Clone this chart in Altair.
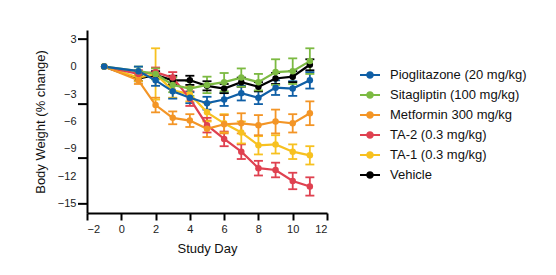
import altair as alt
import pandas as pd

days = [-1, 1, 2, 3, 4, 5, 6, 7, 8, 9, 10, 11]
groups = ["Pioglitazone (20 mg/kg)", "Sitagliptin (100 mg/kg)", "Metformin 300 mg/kg",
          "TA-2 (0.3 mg/kg)", "TA-1 (0.3 mg/kg)", "Vehicle"]
colors = ["#0f5fa6", "#7cba42", "#f39526", "#df4150", "#f7c120", "#000000"]

pio_mean = [0, -0.5, -1.5, -2.7, -3.4, -4.0, -3.6, -2.9, -3.4, -2.3, -2.4, -1.5]
pio_err = [0, 0.5, 0.6, 0.8, 0.6, 0.7, 0.7, 0.8, 0.7, 0.8, 0.8, 0.9]
sita_mean = [0, -0.5, -0.8, -2.0, -2.4, -2.0, -1.7, -1.2, -1.7, -0.6, -0.5, 0.6]
sita_err = [0, 0.5, 0.6, 0.8, 0.8, 0.9, 1.0, 1.0, 0.9, 1.4, 1.4, 1.4]
met_mean = [0, -1.5, -4.2, -5.6, -5.9, -6.8, -6.3, -6.2, -6.4, -6.0, -6.2, -5.1]
met_err = [0, 0.4, 0.8, 0.7, 0.7, 0.9, 1.0, 1.1, 1.1, 1.3, 1.0, 1.3]
ta2_mean = [0, -0.8, -0.6, -1.2, -3.5, -6.4, -7.9, -9.3, -11.1, -11.3, -12.5, -13.1]
ta2_err = [0, 0.4, 0.5, 0.6, 0.8, 0.8, 0.8, 0.8, 0.8, 0.8, 0.9, 1.0]
ta1_mean = [0, -1.2, -0.8, -2.6, -3.0, -5.0, -6.2, -7.2, -8.6, -8.5, -9.3, -9.7]
ta1_err = [0, 0.4, 2.8, 0.8, 0.8, 1.0, 1.0, 1.2, 1.0, 1.0, 0.8, 1.0]
veh_mean = [0, -1.3, -0.9, -1.5, -1.5, -2.1, -2.4, -1.7, -2.2, -1.3, -1.1, 0.2]
veh_err = [0, 0.3, 0.4, 0.5, 0.5, 0.5, 0.5, 0.5, 0.5, 0.6, 0.6, 0.6]

y_label_values = [3, 0, -3, -6, -9, -12, -15]
y_tick_values = [3, -4.1, -10, -15]
x_values = [-2, 0, 2, 4, 6, 8, 10, 12]

series = {
    "Vehicle": (veh_mean, veh_err),
    "TA-1 (0.3 mg/kg)": (ta1_mean, ta1_err),
    "TA-2 (0.3 mg/kg)": (ta2_mean, ta2_err),
    "Metformin 300 mg/kg": (met_mean, met_err),
    "Sitagliptin (100 mg/kg)": (sita_mean, sita_err),
    "Pioglitazone (20 mg/kg)": (pio_mean, pio_err),
}
rows = []
order = 0
for g, (m, e) in series.items():
    for d, mv, ev in zip(days, m, e):
        rows.append({"group": g, "day": d, "mean": mv, "err": ev,
                     "lo": mv - ev, "hi": mv + ev, "ord": order})
        order += 1
df = pd.DataFrame(rows)
ticks_df = pd.DataFrame({"v": y_tick_values})

FONT = "Liberation Sans"
xscale = alt.Scale(domain=[-2, 12], nice=False, zero=False)
yscale = alt.Scale(domain=[-16, 4], nice=False, zero=False)
fscale = alt.Scale(domain=groups, range=colors)
# same mapping, listed in reverse so this scale's legend is not merged with the fill legend
sscale = alt.Scale(domain=groups[::-1], range=colors[::-1])

xaxis = alt.Axis(values=x_values, title="Study Day", grid=False, domainColor="black",
                 domainWidth=2, tickColor="black", tickWidth=2, tickSize=7,
                 labelFont=FONT, labelFontSize=11, labelColor="#222", labelPadding=3,
                 labelOverlap=False,
                 titleFont=FONT, titleFontSize=13, titleFontWeight="normal",
                 titleColor="#111", titlePadding=8)
yaxis = alt.Axis(values=y_label_values, title="Body Weight (% change)", grid=False,
                 domainColor="black", domainWidth=2, ticks=False, tickSize=0,
                 tickOpacity=0, tickColor="transparent",
                 labelPadding=11, labelOverlap=False,
                 labelFont=FONT, labelFontSize=11, labelColor="#222",
                 titleFont=FONT, titleFontSize=13, titleFontWeight="normal",
                 titleColor="#111", titlePadding=10, orient="left")

base = alt.Chart(df)
err_df = base.transform_filter("datum.err > 0")

stroke_enc = alt.Stroke("group:N", scale=sscale, legend=None)

rules = err_df.mark_rule(strokeWidth=1.8).encode(
    x=alt.X("day:Q", scale=xscale, axis=xaxis),
    y=alt.Y("lo:Q", scale=yscale, axis=yaxis),
    y2="hi:Q",
    stroke=stroke_enc,
    order="ord:Q",
)
caps_hi = err_df.mark_rule(strokeWidth=1.8, xOffset=-4.5, x2Offset=4.5).encode(
    x=alt.X("day:Q", scale=xscale, axis=xaxis),
    x2="day:Q",
    y=alt.Y("hi:Q", scale=yscale, axis=yaxis),
    stroke=stroke_enc,
    order="ord:Q",
)
caps_lo = err_df.mark_rule(strokeWidth=1.8, xOffset=-4.5, x2Offset=4.5).encode(
    x=alt.X("day:Q", scale=xscale, axis=xaxis),
    x2="day:Q",
    y=alt.Y("lo:Q", scale=yscale, axis=yaxis),
    stroke=stroke_enc,
    order="ord:Q",
)
lines = base.mark_line(strokeWidth=2.2).encode(
    x=alt.X("day:Q", scale=xscale, axis=xaxis),
    y=alt.Y("mean:Q", scale=yscale, axis=yaxis),
    stroke=stroke_enc,
    order="day:Q",
    detail="group:N",
)
legend = alt.Legend(
    title=None, orient="none", legendX=273, legendY=35,
    symbolType="M-1,-0.1L1,-0.1L1,0.1L-1,0.1Z M0.38,0A0.38,0.38 0 1,1 -0.38,0A0.38,0.38 0 1,1 0.38,0Z",
    symbolSize=400, symbolStrokeWidth=0, symbolOpacity=1,
    labelFont=FONT, labelFontSize=13, labelColor="#111", labelOffset=10,
    rowPadding=3, labelLimit=300,
)
points = base.mark_circle(size=42, opacity=1).encode(
    x=alt.X("day:Q", scale=xscale, axis=xaxis),
    y=alt.Y("mean:Q", scale=yscale, axis=yaxis),
    fill=alt.Fill("group:N", scale=fscale, legend=legend),
    order="ord:Q",
)
ytick_marks = alt.Chart(ticks_df).mark_rule(color="black", strokeWidth=2).encode(
    y=alt.Y("v:Q", scale=yscale, axis=yaxis),
    x=alt.value(-9),
    x2=alt.value(0),
)

chart = alt.layer(rules, caps_hi, caps_lo, lines, points, ytick_marks).properties(
    width=240, height=183, autosize="none", background="white",
    padding={"left": 87, "top": 30, "right": 229, "bottom": 62},
).configure_view(stroke=None).configure_axisY(ticks=False, tickOpacity=0)

chart.save("out.html", embed_options={"renderer": "svg", "actions": False})
